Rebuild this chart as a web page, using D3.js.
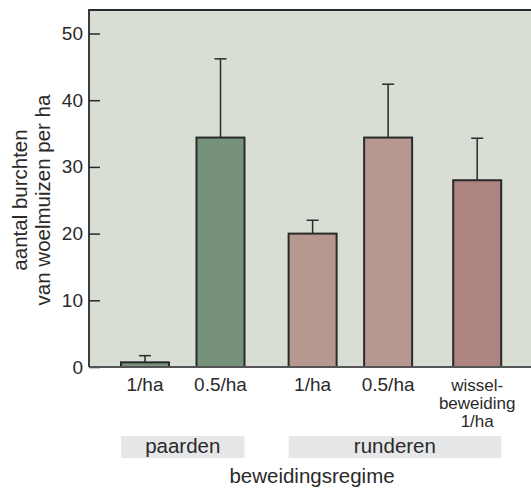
<!DOCTYPE html>
<html>
<head>
<meta charset="utf-8">
<script src="https://cdn.jsdelivr.net/npm/d3@7/dist/d3.min.js"></script>
<style>
  html, body { margin: 0; padding: 0; background: #fff; }
  svg { display: block; font-family: "Liberation Sans", Arial, Helvetica, sans-serif; }
</style>
</head>
<body>
<svg id="chart" width="531" height="489"></svg>
<script>
// Burrows of voles per hectare by grazing regime
const categories = ["1/ha", "0.5/ha", "1/ha", "0.5/ha", "wissel-|beweiding|1/ha"];
const groups = ["paarden", "paarden", "runderen", "runderen", "runderen"];
const means = [0.7, 34.4, 20.0, 34.4, 28.0];
const errors = [1.0, 11.8, 2.0, 8.0, 6.3];
const yTicks = [0, 10, 20, 30, 40, 50];
const groupNames = ["paarden", "runderen"];

// layout
const plot = { left: 89, top: 10, right: 531, bottom: 367 };
const slot = [0, 1, 2.22, 3.22, 4.4];   // horizontal slot of each bar
const barW = 48;
const fills = ["#77927a", "#77927a", "#b69890", "#b69890", "#ad8482"];
const ink = "#2a2a2a";

const svg = d3.select("#chart");

const y = d3.scaleLinear().domain([0, 50]).range([plot.bottom, 33.5]);
const x = d3.scaleLinear().domain([0, 1]).range([145, 220.5]);

// plot background
svg.append("rect")
  .attr("x", plot.left).attr("y", plot.top)
  .attr("width", plot.right - plot.left).attr("height", plot.bottom - plot.top)
  .attr("fill", "#d9ded4");

// top frame line
svg.append("line")
  .attr("x1", plot.left).attr("x2", plot.right)
  .attr("y1", plot.top).attr("y2", plot.top)
  .attr("stroke", ink).attr("stroke-width", 2);

// y axis with inward ticks
const yAxis = d3.axisRight(y).tickValues(yTicks).tickSize(11).tickFormat(d3.format("d"));
const ya = svg.append("g").attr("transform", `translate(${plot.left},0)`).call(yAxis);
ya.select(".domain").remove();
ya.selectAll(".tick line").attr("stroke", ink).attr("stroke-width", 1.5);
ya.selectAll(".tick text")
  .attr("x", -6).attr("text-anchor", "end")
  .attr("fill", ink).style("font-size", "19px")
  .style("font-family", "'Liberation Sans', Arial, sans-serif");
svg.append("line")
  .attr("x1", plot.left).attr("x2", plot.left)
  .attr("y1", plot.top - 1).attr("y2", plot.bottom)
  .attr("stroke", ink).attr("stroke-width", 1.8);

const data = means.map((m, i) => ({ i, m, e: errors[i], cat: categories[i], grp: groups[i] }));

// error bars (drawn first so the bar outline covers the stem base)
const eb = svg.append("g").attr("stroke", ink).attr("stroke-width", 1.5);
data.forEach(d => {
  const cx = x(slot[d.i]);
  eb.append("line").attr("x1", cx).attr("x2", cx).attr("y1", y(d.m)).attr("y2", y(d.m + d.e));
  eb.append("line").attr("x1", cx - 6).attr("x2", cx + 6).attr("y1", y(d.m + d.e)).attr("y2", y(d.m + d.e));
});

// bars
svg.append("g").selectAll("rect").data(data).join("rect")
  .attr("x", d => x(slot[d.i]) - barW / 2)
  .attr("y", d => y(d.m))
  .attr("width", barW)
  .attr("height", d => y(0) - y(d.m))
  .attr("fill", (d, i) => fills[i])
  .attr("stroke", ink).attr("stroke-width", 2);

// baseline
svg.append("line")
  .attr("x1", plot.left).attr("x2", plot.right)
  .attr("y1", plot.bottom).attr("y2", plot.bottom)
  .attr("stroke", "#555").attr("stroke-width", 1.8);

// category labels
const catG = svg.append("g").attr("fill", ink).attr("text-anchor", "middle");
data.forEach(d => {
  const lines = d.cat.split("|");
  const t = catG.append("text").attr("x", x(slot[d.i])).attr("y", 390.5)
    .style("font-size", lines.length > 1 ? "17px" : "19px");
  lines.forEach((ln, k) => {
    t.append("tspan").attr("x", x(slot[d.i])).attr("dy", k === 0 ? 0 : 18.3).text(ln);
  });
});

// group bands
groupNames.forEach(g => {
  const idx = data.filter(d => d.grp === g).map(d => d.i);
  const x0 = x(slot[d3.min(idx)]) - barW / 2;
  const x1 = x(slot[d3.max(idx)]) + barW / 2;
  svg.append("rect").attr("x", x0).attr("y", 436).attr("width", x1 - x0).attr("height", 22)
    .attr("fill", "#e6e7e9");
  svg.append("text").attr("x", (x0 + x1) / 2).attr("y", 453)
    .attr("text-anchor", "middle").attr("fill", ink).style("font-size", "20.5px").text(g);
});

// x axis title
svg.append("text").attr("x", 312).attr("y", 483).attr("text-anchor", "middle")
  .attr("fill", ink).style("font-size", "20.5px").text("beweidingsregime");

// y axis title
const yt = svg.append("text").attr("transform", "translate(0,200) rotate(-90)")
  .attr("text-anchor", "middle").attr("fill", ink).style("font-size", "20.5px");
yt.append("tspan").attr("x", 0).attr("y", 27).text("aantal burchten");
yt.append("tspan").attr("x", 0).attr("y", 50).text("van woelmuizen per ha");
</script>
</body>
</html>
